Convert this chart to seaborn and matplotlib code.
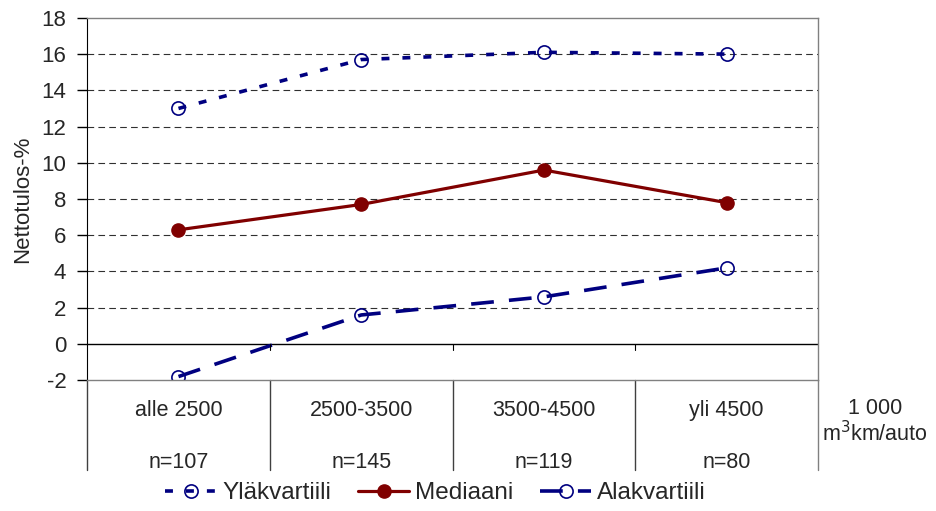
import pandas as pd
import matplotlib.pyplot as plt
import seaborn as sns

# Data
categories = ["alle 2500", "2500-3500", "3500-4500", "yli 4500"]
counts = ["n=107", "n=145", "n=119", "n=80"]
ylakvartiili = [13.0, 15.7, 16.1, 16.0]
mediaani = [6.3, 7.7, 9.6, 7.8]
alakvartiili = [-1.8, 1.6, 2.6, 4.2]

df = pd.DataFrame({
    "pos": list(range(len(categories))) * 3,
    "value": ylakvartiili + mediaani + alakvartiili,
    "series": ["Yläkvartiili"] * 4 + ["Mediaani"] * 4 + ["Alakvartiili"] * 4,
})

sns.set_style("white")
plt.rcParams["font.family"] = ["Liberation Sans", "DejaVu Sans"]
plt.rcParams["font.size"] = 15
plt.rcParams["axes.unicode_minus"] = False

fig = plt.figure(figsize=(9.37, 5.11), dpi=100)
ax = fig.add_axes([0.093, 0.256, 0.780, 0.709])

navy = "#000080"
red = "#800000"
styles = {
    "Yläkvartiili": dict(color=navy, dashes=(2.2, 3.6), mfc="none", mec=navy, mew=1.2, lw=2.6),
    "Mediaani": dict(color=red, dashes=None, mfc=red, mec=red, mew=1.0, lw=2.3),
    "Alakvartiili": dict(color=navy, dashes=(6.3, 4.2), mfc="none", mec=navy, mew=1.2, lw=2.6),
}

for name in ["Yläkvartiili", "Mediaani", "Alakvartiili"]:
    st = styles[name]
    sub = df[df["series"] == name]
    sns.lineplot(data=sub, x="pos", y="value", ax=ax, color=st["color"], marker="o",
                 markersize=9.5, markerfacecolor=st["mfc"], markeredgecolor=st["mec"],
                 markeredgewidth=st["mew"], linewidth=st["lw"], label=name)
    line = ax.get_lines()[-1]
    if st["dashes"] is not None:
        line.set_dashes(st["dashes"])

ax.set_xlim(-0.5, 3.5)
ax.set_ylim(-2, 18)
ax.set_yticks(range(-2, 19, 2))
ax.set_xticks([0.5, 1.5, 2.5])
ax.set_xticklabels([])
ax.set_xlabel("")
ax.set_ylabel("Nettotulos-%", fontsize=16)
ax.yaxis.set_label_coords(-0.074, 0.5)

# gridlines
for v in range(2, 17, 2):
    ax.axhline(v, color="#303030", linewidth=0.8, linestyle=(0, (6, 3.8)), zorder=0)
ax.axhline(0, color="black", linewidth=1.0, zorder=1)

for side in ["top", "bottom", "right"]:
    ax.spines[side].set_color("#808080")
    ax.spines[side].set_linewidth(1.0)
ax.spines["left"].set_color("black")
ax.tick_params(axis="y", direction="out", length=7, width=1, color="black", left=True,
               labelsize=16, pad=8)
ax.tick_params(axis="x", length=0)

# x ticks on zero line
for b in [0.5, 1.5, 2.5]:
    ax.plot([b, b], [0, -0.35], color="black", linewidth=0.8, clip_on=False)

# category table below the axis
trans = ax.get_xaxis_transform()
for b in [-0.5, 0.5, 1.5, 2.5, 3.5]:
    ax.plot([b, b], [0, -0.249], color="#808080" if b == 3.5 else "#404040", linewidth=1.0,
            transform=trans, clip_on=False)
for i, (c, n) in enumerate(zip(categories, counts)):
    ax.text(i, -0.085, c, transform=trans, ha="center", va="center", fontsize=15.5)
    ax.text(i, -0.228, n, transform=trans, ha="center", va="center", fontsize=15.5)
ax.text(3.81, -0.077, "1 000", transform=trans, ha="center", va="center", fontsize=15.5)
ax.text(3.81, -0.148, "m$^3$km/auto", transform=trans, ha="center", va="center", fontsize=15.5)

ax.legend(loc="center", bbox_to_anchor=(0.477, -0.312), ncol=3, frameon=False, fontsize=17.5,
          handlelength=2.1, columnspacing=1.1, handletextpad=0.25)

plt.savefig("out.png", dpi=100)
